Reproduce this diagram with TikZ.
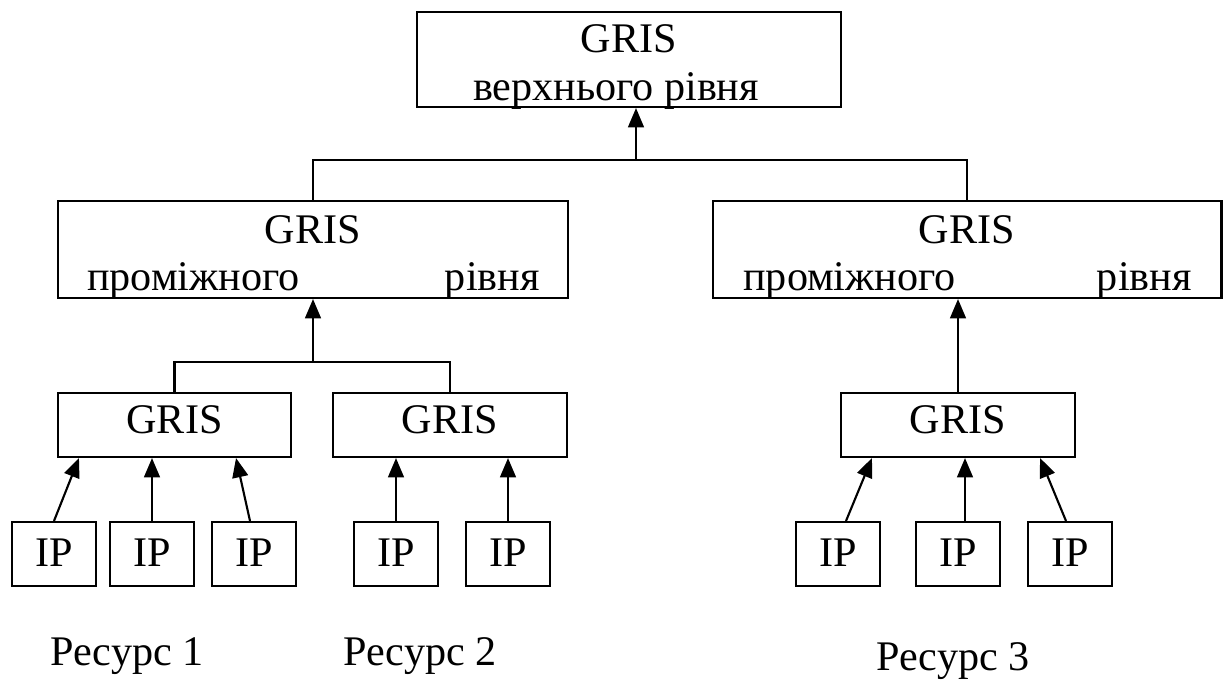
\documentclass[tikz,border=0pt]{standalone}
\usepackage{fontspec}
\setmainfont{Liberation Serif}
\usetikzlibrary{arrows.meta,calc}
\begin{document}
\begin{tikzpicture}[x=0.02cm,y=-0.02cm,
  box/.style={draw,line width=1.2pt,inner sep=0pt},
  lbl/.style={font=\fontsize{24}{28}\selectfont,inner sep=0pt,anchor=base},
  conn/.style={line width=1.2pt},
  arr/.style={line width=1.2pt,-{Triangle[length=11pt,width=9pt]}}]
\useasboundingbox (0,0) rectangle (1224,680);
% boxes
\node[box,minimum width=8.48cm,minimum height=1.9cm] (top) at (629,59.5) {};
\node[box,minimum width=10.2cm,minimum height=1.94cm] (ml) at (313,249.5) {};
\node[box,minimum width=10.18cm,minimum height=1.94cm] (mr) at (967,249.5) {};
\node[box,minimum width=4.66cm,minimum height=1.28cm] (g1) at (174.5,425) {};
\node[box,minimum width=4.68cm,minimum height=1.28cm] (g2) at (450,425) {};
\node[box,minimum width=4.68cm,minimum height=1.28cm] (g3) at (958,425) {};
\foreach \n/\x in {1/54,2/152,3/254,4/396,5/508,6/838,7/958,8/1070}
  \node[box,minimum width=1.68cm,minimum height=1.28cm] (ip\n) at (\x,554) {};
% texts
\node[lbl] (ttop) at (629,52) {GRIS};
\node[lbl] (ttop2) at (616,100) {верхнього рівня};
\node[lbl] (tml) at (313,243) {GRIS};
\node[lbl,anchor=base west] (tml2) at (87,290) {проміжного};
\node[lbl,anchor=base east] (tml3) at (540,290) {рівня};
\node[lbl] (tmr) at (967,243) {GRIS};
\node[lbl,anchor=base west] (tmr2) at (743,290) {проміжного};
\node[lbl,anchor=base east] (tmr3) at (1192,290) {рівня};
\node[lbl] (tg1) at (174.5,433) {GRIS};
\node[lbl] (tg2) at (450,433) {GRIS};
\node[lbl] (tg3) at (958,433) {GRIS};
\foreach \n/\x in {1/54,2/152,3/254,4/396,5/508,6/838,7/958,8/1070}
  \node[lbl] (tip\n) at (\x,566) {IP};
\node[lbl] (r1) at (127,665) {Ресурс 1};
\node[lbl] (r2) at (420,665) {Ресурс 2};
\node[lbl] (r3) at (953,670) {Ресурс 3};
% upper connectors
\coordinate (j1) at (636,160);
\draw[conn] (ml.north) |- (j1) -| (mr.north);
\draw[arr] (j1) -- (top.south -| j1);
\coordinate (j2) at (313,362);
\draw[conn] (g1.north) |- (j2) -| (g2.north);
\draw[arr] (j2) -- (ml.south);
\draw[arr] (g3.north) -- (mr.south -| g3.north);
% IP arrows
\draw[arr] (ip1.north) -- ($(g1.south west)+(22,0)$);
\draw[arr] (ip2.north) -- (g1.south -| ip2.north);
\draw[arr] ($(ip3.north)+(-4,0)$) -- ($(g1.south east)+(-56,0)$);
\draw[arr] (ip4.north) -- (g2.south -| ip4.north);
\draw[arr] (ip5.north) -- (g2.south -| ip5.north);
\draw[arr] ($(ip6.north)+(8,0)$) -- ($(g3.south west)+(32,0)$);
\draw[arr] ($(ip7.north)+(7,0)$) -- ($(g3.south)+(7,0)$);
\draw[arr] ($(ip8.north)+(-4,0)$) -- ($(g3.south east)+(-36,0)$);
\end{tikzpicture}
\end{document}
